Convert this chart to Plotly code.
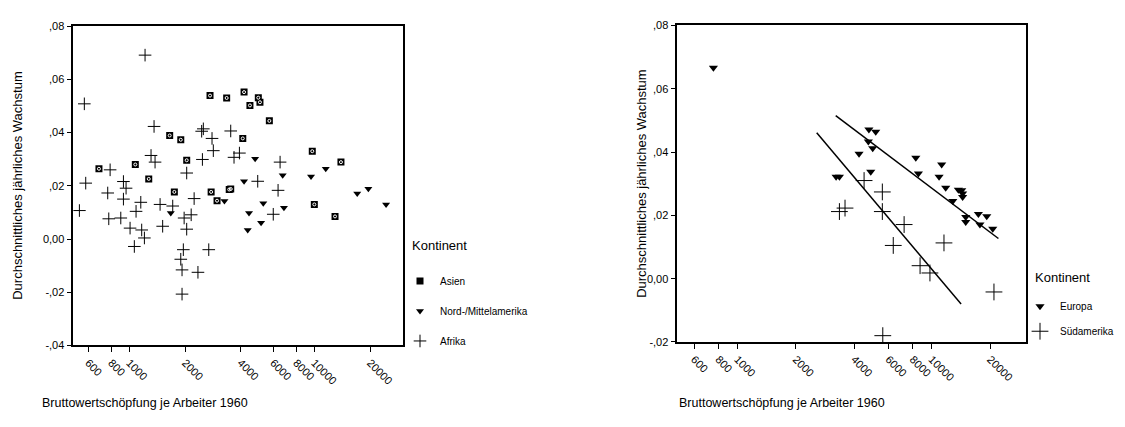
import plotly.graph_objects as go

# Left panel: Asien, Nord-/Mittelamerika, Afrika
asien_x = [685, 1077, 1273, 1652, 1897, 2042, 2730, 3358, 1751, 2768, 3467, 2979,
           4170, 4980, 5082, 4486, 5713, 4104, 9748, 13930, 3532, 10000, 12940]
asien_y = [0.0264, 0.0280, 0.0226, 0.0389, 0.0373, 0.0296, 0.0539, 0.0530, 0.0177, 0.0177,
           0.0186, 0.0144, 0.0552, 0.0531, 0.0514, 0.0502, 0.0444, 0.0378, 0.0330, 0.0289,
           0.0188, 0.0130, 0.0085]

nord_x = [1675, 3266, 4786, 6745, 4170, 9598, 11530, 17060, 19590, 5297, 4436, 4365,
          5155, 6851, 24430]
nord_y = [0.0098, 0.0143, 0.0302, 0.0240, 0.0217, 0.0235, 0.0264, 0.0171, 0.0189, 0.0134,
          0.0098, 0.0034, 0.0061, 0.0118, 0.0130]

afrika_x = [1216, 571, 1360, 2512, 2460, 2799, 2844, 1310, 1377, 2483, 2042, 787, 581, 929,
            960, 764, 537, 929, 774, 899, 1153, 1087, 1009, 1166, 1206, 1064, 1466, 1514,
            1716, 1978, 2042, 2159, 2240, 1958, 1897, 1927, 2349, 1927, 2687, 3532, 3936,
            3680, 6529, 4943, 6368, 5998]
afrika_y = [0.0691, 0.0508, 0.0423, 0.0414, 0.0405, 0.0378, 0.0332, 0.0314, 0.0289, 0.0299,
            0.0248, 0.0260, 0.0210, 0.0216, 0.0191, 0.0173, 0.0107, 0.0150, 0.0076, 0.0079,
            0.0138, 0.0104, 0.0041, 0.0034, 0.0004, -0.0028, 0.0130, 0.0048, 0.0124, 0.0079,
            0.0037, 0.0091, 0.0152, -0.0040, -0.0076, -0.0116, -0.0125, -0.0207, -0.0040,
            0.0406, 0.0323, 0.0307, 0.0289, 0.0217, 0.0183, 0.0093]

# Right panel: Europa, Südamerika with fitted lines
europa_x = [753, 3222, 3350, 4750, 5150, 4227, 4720, 4970, 4856, 8280, 8540, 11250, 10910,
            11800, 13710, 14260, 14420, 14420, 12830, 14960, 14960, 17380, 19190, 17700, 20600]
europa_y = [0.0666, 0.0322, 0.0322, 0.0471, 0.0464, 0.0395, 0.0433, 0.0412, 0.0338, 0.0382,
            0.0332, 0.0361, 0.0322, 0.0287, 0.0281, 0.0279, 0.0269, 0.0258, 0.0245, 0.0195,
            0.0179, 0.0204, 0.0197, 0.0171, 0.0158]

sued_x = [3350, 3580, 4487, 5570, 5570, 7210, 6340, 11560, 8710, 9790, 20900, 5600]
sued_y = [0.0212, 0.0223, 0.0310, 0.0274, 0.0212, 0.0171, 0.0105, 0.0113, 0.0041, 0.0018,
          -0.0042, -0.0180]

europa_fit_x = [3206, 22030]
europa_fit_y = [0.0515, 0.0127]
sued_fit_x = [2560, 14160]
sued_fit_y = [0.0461, -0.0080]

x_ticks = [600, 800, 1000, 2000, 4000, 6000, 8000, 10000, 20000]
x_ticktext = ["600", "800", "1000", "2000", "4000", "6000", "8000", "10000", "20000"]
y_ticks_left = [-0.04, -0.02, 0.0, 0.02, 0.04, 0.06, 0.08]
y_ticktext_left = ["-,04", "-,02", "0,00", ",02", ",04", ",06", ",08"]
y_ticks_right = [-0.02, 0.0, 0.02, 0.04, 0.06, 0.08]
y_ticktext_right = ["-,02", "0,00", ",02", ",04", ",06", ",08"]

FONT = "Liberation Sans, Arial, sans-serif"
W, H = 1125, 427

fig = go.Figure()

asien_marker = dict(symbol="square", size=7, color="black", line=dict(width=0))
asien_ring = dict(symbol="circle-open", size=3, color="white", line=dict(color="white", width=1))
tri_marker_l = dict(symbol="triangle-down", size=7, color="black", line=dict(width=0))
plus_marker_l = dict(symbol="cross-thin-open", size=9, color="black",
                     line=dict(color="black", width=1))
tri_marker_r = dict(symbol="triangle-down", size=8, color="black", line=dict(width=0))
plus_marker_r = dict(symbol="cross-thin-open", size=12, color="black",
                     line=dict(color="black", width=1))

fig.add_trace(go.Scatter(x=asien_x, y=asien_y, mode="markers", name="Asien",
                         marker=asien_marker, xaxis="x", yaxis="y",
                         legend="legend", legendgroup="a"))
fig.add_trace(go.Scatter(x=asien_x, y=asien_y, mode="markers", showlegend=False,
                         marker=asien_ring, xaxis="x", yaxis="y", hoverinfo="skip"))
fig.add_trace(go.Scatter(x=nord_x, y=nord_y, mode="markers", name="Nord-/Mittelamerika",
                         marker=tri_marker_l, xaxis="x", yaxis="y",
                         legend="legend", legendgroup="n"))
fig.add_trace(go.Scatter(x=afrika_x, y=afrika_y, mode="markers", name="Afrika",
                         marker=plus_marker_l, xaxis="x", yaxis="y",
                         legend="legend", legendgroup="f"))

fig.add_trace(go.Scatter(x=europa_fit_x, y=europa_fit_y, mode="lines", showlegend=False,
                         line=dict(color="black", width=1.5), xaxis="x2", yaxis="y2"))
fig.add_trace(go.Scatter(x=sued_fit_x, y=sued_fit_y, mode="lines", showlegend=False,
                         line=dict(color="black", width=1.5), xaxis="x2", yaxis="y2"))
fig.add_trace(go.Scatter(x=europa_x, y=europa_y, mode="markers", name="Europa",
                         marker=tri_marker_r, xaxis="x2", yaxis="y2",
                         legend="legend2", legendgroup="e"))
fig.add_trace(go.Scatter(x=sued_x, y=sued_y, mode="markers", name="Südamerika",
                         marker=plus_marker_r, xaxis="x2", yaxis="y2",
                         legend="legend2", legendgroup="s"))

def xaxis(domain, rng):
    return dict(type="log", domain=domain, range=rng, tickvals=x_ticks, ticktext=x_ticktext,
                tickangle=45, ticks="outside", ticklen=5, tickwidth=1, tickcolor="black",
                showline=True, linecolor="black", linewidth=1.5, mirror=True,
                showgrid=False, zeroline=False, tickfont=dict(size=11, color="black"))

def yaxis(domain, rng, vals, text, anchor):
    return dict(domain=domain, range=rng, tickvals=vals, ticktext=text, anchor=anchor,
                ticks="outside", ticklen=5, tickwidth=1, tickcolor="black",
                showline=True, linecolor="black", linewidth=1.5, mirror=True,
                showgrid=False, zeroline=False, tickfont=dict(size=11, color="black"))

fig.update_layout(
    width=W, height=H,
    margin=dict(l=0, r=0, t=0, b=0),
    paper_bgcolor="white", plot_bgcolor="white",
    font=dict(family=FONT, color="black"),
    xaxis=dict(xaxis([73.3 / W, 403.3 / W], [2.697, 4.481]), anchor="y"),
    yaxis=yaxis([1 - 349.3 / H, 1 - 20.7 / H], [-0.04, 0.08],
                y_ticks_left, y_ticktext_left, "x"),
    xaxis2=dict(xaxis([677.3 / W, 1026 / W], [2.691, 4.485]), anchor="y2"),
    yaxis2=yaxis([1 - 345.7 / H, 1 - 20 / H], [-0.02, 0.08],
                 y_ticks_right, y_ticktext_right, "x2"),
    legend=dict(x=400 / W, y=1 - 268 / H, xanchor="left", yanchor="top",
                font=dict(size=10), tracegroupgap=11, bgcolor="rgba(0,0,0,0)"),
    legend2=dict(x=1020 / W, y=1 - 294 / H, xanchor="left", yanchor="top",
                 font=dict(size=10), tracegroupgap=6, bgcolor="rgba(0,0,0,0)"),
    showlegend=True,
)

def note(text, x, y, size, angle=0, xanchor="left"):
    return dict(text=text, x=x / W, y=1 - y / H, xref="paper", yref="paper",
                textangle=angle, xanchor=xanchor, yanchor="middle", showarrow=False,
                font=dict(size=size, color="black"))

fig.update_layout(annotations=[
    note("Kontinent", 410, 246.7, 13),
    note("Kontinent", 1033, 279, 13),
    note("Durchschnittliches jährliches Wachstum", 18, 185, 13, -90, "center"),
    note("Durchschnittliches jährliches Wachstum", 642, 183, 13, -90, "center"),
    note("Bruttowertschöpfung je Arbeiter 1960", 40, 408, 12.5),
    note("Bruttowertschöpfung je Arbeiter 1960", 677, 408, 12.5),
])

fig.write_html("out.html")
